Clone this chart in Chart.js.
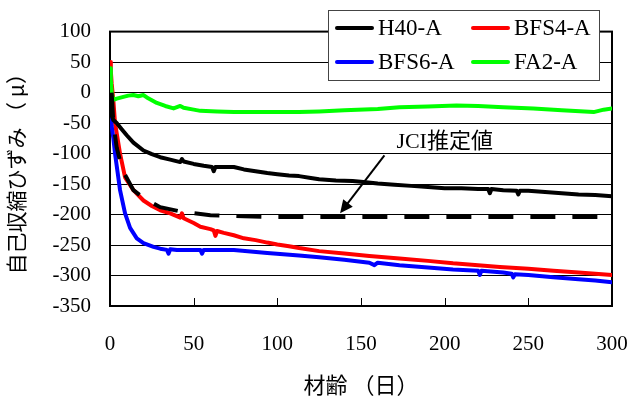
<!DOCTYPE html>
<html>
<head>
<meta charset="utf-8">
<script src="https://cdn.jsdelivr.net/npm/chart.js@4/dist/chart.umd.min.js"></script>
<style>
  html, body { margin: 0; padding: 0; background: #fff; }
  #wrap { width: 630px; height: 401px; }
</style>
</head>
<body>
<div id="wrap"><canvas id="shrink" width="630" height="401"></canvas></div>
<script>
// 材齢（日） and 自己収縮ひずみ（μ）
var h40Days = [0, 0.5, 1, 2, 4, 7, 10, 14, 20, 25, 30, 36, 42, 43, 44, 50, 56, 61, 62, 63, 68, 74, 80, 87, 94, 100, 107, 113, 120, 125, 135, 145, 153, 160, 170, 180, 190, 200, 210, 220, 226, 227, 228, 235, 243, 244, 245, 250, 260, 270, 280, 290, 300];
var h40Vals = [0, -20, -38, -45, -50, -60, -70, -82, -95, -101, -106, -110, -114, -109, -113, -117, -120, -122, -129, -122, -122, -122, -126, -129, -132, -134, -136, -137, -140, -142, -144, -145, -147, -149, -151, -153, -155, -157, -157, -158, -158, -165, -158, -160, -161, -167, -161, -161, -163, -165, -167, -168, -170];

var bfs4Days = [0, 0.5, 1, 2, 3, 6, 9, 14, 20, 25, 30, 36, 42, 43, 44, 50, 54, 60, 62, 63, 64, 68, 74, 80, 87, 94, 100, 107, 113, 125, 140, 155, 173, 190, 205, 220, 233, 250, 265, 280, 290, 300];
var bfs4Vals = [50, 35, 15, -13, -50, -100, -139, -160, -177, -186, -193, -198, -205, -198, -206, -214, -220, -224, -226, -235, -227, -230, -234, -239, -242, -246, -249, -252, -255, -260, -264, -268, -272, -276, -280, -283, -286, -289, -292, -295, -297, -299];

var bfs6Days = [0, 0.5, 1, 2, 3, 4.5, 6, 9, 12, 16, 20, 26, 30, 34, 35, 36, 40, 46, 54, 55, 56, 60, 74, 94, 113, 125, 140, 155, 158, 160, 173, 190, 205, 220, 221, 222, 235, 240, 241, 242, 250, 265, 280, 290, 300];
var bfs6Vals = [-30, -40, -55, -75, -100, -130, -160, -198, -222, -239, -247, -253, -256, -258, -264, -257, -258, -258, -258, -264, -258, -258, -258, -263, -267, -270, -274, -279, -283, -279, -283, -287, -290, -292, -299, -292, -295, -297, -303, -298, -299, -303, -306, -308, -311];

var fa2Days = [0, 0.5, 1, 2, 4, 8, 11, 14, 17, 20, 22, 28, 33, 38, 40, 42, 44, 50, 54, 64, 74, 90, 113, 125, 140, 160, 173, 190, 207, 220, 235, 253, 270, 289, 295, 300];
var fa2Vals = [40, 20, 0, -12, -10, -7, -5, -4, -6, -4, -8, -17, -22, -26, -24, -22, -25, -28, -30, -31, -32, -32, -32, -31, -29, -27, -24, -23, -21, -22, -24, -26, -29, -32, -28, -26];

var jciDays = [1, 2, 4, 6, 9, 14, 20, 30, 44, 60, 80, 100, 150, 200, 250, 293];
var jciVals = [0, -50, -90, -112, -135, -160, -173, -188, -196, -201, -203, -204, -204, -204, -204, -204];

var seriesNames = ['H40-A', 'BFS4-A', 'BFS6-A', 'FA2-A'];
var seriesColors = ['#000000', '#ff0000', '#0000ff', '#00ff00'];

var xTicks = [0, 50, 100, 150, 200, 250, 300];
var yTicks = [100, 50, 0, -50, -100, -150, -200, -250, -300, -350];

var noteText = 'JCI推定値';

var serif = '"Liberation Serif", "Times New Roman", serif';
var cjk = '"Noto Sans CJK JP", "Noto Sans", sans-serif';

function pts(days, vals) {
    return days.map(function (d, i) { return { x: d, y: vals[i] }; });
}

function lineSet(i, days, vals, order) {
    return {
        label: seriesNames[i],
        data: pts(days, vals),
        borderColor: seriesColors[i],
        backgroundColor: seriesColors[i],
        borderWidth: 4,
        borderJoinStyle: 'round',
        borderCapStyle: 'round',
        pointRadius: 0,
        tension: 0,
        order: order
    };
}

var frame = {
    id: 'frame',
    beforeDatasetsDraw: function (chart) {
        var a = chart.chartArea, ctx = chart.ctx, xs = chart.scales.x;
        ctx.save();
        ctx.strokeStyle = '#000';
        ctx.lineWidth = 1;
        xTicks.forEach(function (t) {
            if (t === xTicks[0] || t === xTicks[xTicks.length - 1]) return;
            var px = Math.round(xs.getPixelForValue(t)) + 0.5;
            ctx.beginPath();
            ctx.moveTo(px, a.bottom);
            ctx.lineTo(px, a.bottom - 8);
            ctx.stroke();
        });
        ctx.lineWidth = 2;
        ctx.strokeRect(a.left, a.top, a.right - a.left, a.bottom - a.top);
        ctx.restore();
    },
    afterDatasetsDraw: function (chart) {
        var ctx = chart.ctx, xs = chart.scales.x, ys = chart.scales.y;
        ctx.save();
        // note + arrow
        ctx.fillStyle = '#000';
        ctx.font = '22px ' + serif + ', ' + cjk;
        ctx.textAlign = 'center';
        ctx.textBaseline = 'middle';
        ctx.fillText(noteText, xs.getPixelForValue(200), ys.getPixelForValue(-82));
        var x1 = xs.getPixelForValue(164), y1 = ys.getPixelForValue(-103);
        var x2 = xs.getPixelForValue(137.5), y2 = ys.getPixelForValue(-198);
        var ang = Math.atan2(y2 - y1, x2 - x1);
        ctx.strokeStyle = '#000';
        ctx.lineWidth = 2;
        ctx.beginPath();
        ctx.moveTo(x1, y1);
        ctx.lineTo(x2 - 8 * Math.cos(ang), y2 - 8 * Math.sin(ang));
        ctx.stroke();
        ctx.beginPath();
        ctx.moveTo(x2, y2);
        ctx.lineTo(x2 - 13 * Math.cos(ang) + 6 * Math.sin(ang), y2 - 13 * Math.sin(ang) - 6 * Math.cos(ang));
        ctx.lineTo(x2 - 13 * Math.cos(ang) - 6 * Math.sin(ang), y2 - 13 * Math.sin(ang) + 6 * Math.cos(ang));
        ctx.closePath();
        ctx.fill();

        // legend box
        ctx.fillStyle = '#fff';
        ctx.fillRect(328, 10, 271, 70);
        ctx.strokeStyle = '#444';
        ctx.lineWidth = 1;
        ctx.strokeRect(328.5, 10.5, 271, 70);
        ctx.font = '23px ' + serif;
        ctx.textAlign = 'left';
        var cols = [337, 473], rows = [28, 62];
        seriesNames.forEach(function (name, i) {
            var cx = cols[i % 2], cy = rows[Math.floor(i / 2)];
            ctx.strokeStyle = seriesColors[i];
            ctx.lineWidth = 4;
            ctx.lineCap = 'round';
            ctx.beginPath();
            ctx.moveTo(cx, cy);
            ctx.lineTo(cx + 35, cy);
            ctx.stroke();
            ctx.fillStyle = '#000';
            ctx.fillText(name, cx + 41, cy + 1);
        });
        ctx.restore();
    }
};

new Chart(document.getElementById('shrink'), {
    type: 'line',
    data: {
        datasets: [
            lineSet(1, bfs4Days, bfs4Vals, 5),
            lineSet(2, bfs6Days, bfs6Vals, 4),
            lineSet(0, h40Days, h40Vals, 3),
            lineSet(3, fa2Days, fa2Vals, 2),
            {
                label: noteText,
                data: pts(jciDays, jciVals),
                borderColor: '#000',
                borderWidth: 4,
                borderDash: [25, 17],
                pointRadius: 0,
                order: 1
            }
        ]
    },
    options: {
        responsive: false,
        animation: false,
        layout: { padding: { left: 0, right: 0, top: 31, bottom: 0 } },
        plugins: { legend: { display: false }, tooltip: { enabled: false } },
        scales: {
            x: {
                type: 'linear',
                min: 0,
                max: 300,
                afterBuildTicks: function (s) { s.ticks = xTicks.map(function (v) { return { value: v }; }); },
                afterFit: function (s) { s.height = 95; s.paddingLeft = 0; s.paddingRight = 18; },
                grid: { display: false, drawTicks: false },
                border: { display: true, color: '#000', width: 2 },
                ticks: { color: '#000', font: { family: serif, size: 21 }, padding: 26, maxRotation: 0 },
                title: { display: true, text: '材齢 （日）', color: '#000', font: { family: cjk, size: 22 }, padding: { top: 0, bottom: 3 } }
            },
            y: {
                min: -350,
                max: 100,
                afterBuildTicks: function (s) { s.ticks = yTicks.map(function (v) { return { value: v }; }); },
                afterFit: function (s) { s.width = 110; },
                grid: { color: '#000', lineWidth: 1, drawTicks: false },
                border: { display: true, color: '#000', width: 2 },
                ticks: { color: '#000', font: { family: serif, size: 21 }, padding: 19 },
                title: { display: true, text: '自己収縮ひずみ （ μ）', color: '#000', font: { family: cjk, size: 21 }, padding: { top: 3, bottom: 0 } }
            }
        }
    },
    plugins: [frame]
});
</script>
</body>
</html>
